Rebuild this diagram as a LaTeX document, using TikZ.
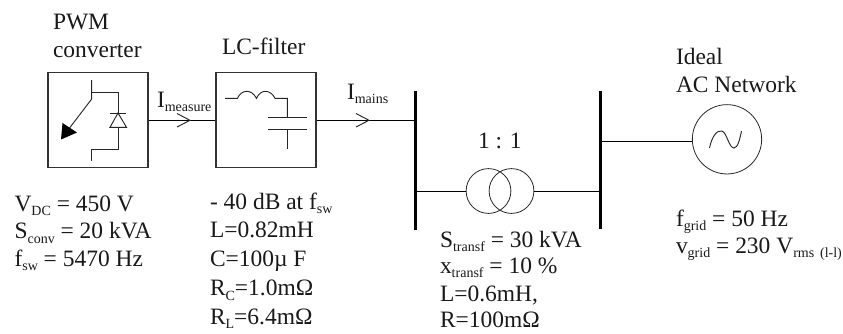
\documentclass[tikz,border=0pt]{standalone}
\usepackage{fontspec}
\setmainfont{Liberation Serif}
\newcommand{\sbs}[1]{\raisebox{-3.6pt}{\fontsize{10.5pt}{12pt}\selectfont #1}}
\tikzset{
  x=0.75pt,y=-0.75pt,
  wire/.style={draw=black,line width=0.75pt},
  thin wire/.style={draw=black!85,line width=0.7pt},
  bus/.style={draw=black,line width=2pt},
  box/.style={draw=black!80,line width=0.8pt,minimum width=75pt,minimum height=71.25pt,inner sep=0pt},
  coil/.style={draw=black!85,circle,line width=0.6pt,minimum size=33.6pt,inner sep=0pt},
  source/.style={draw=black!85,circle,line width=0.6pt,minimum size=52pt,inner sep=0pt},
  lbl/.style={anchor=base west,inner sep=0pt,outer sep=0pt,font=\fontsize{17.6pt}{20pt}\selectfont,text=black!90},
}
\begin{document}
\begin{tikzpicture}
\useasboundingbox (0,0) rectangle (843,333);
% boxes
\node[box] (pwm) at (98,120.3) {};
\node[box] (lc) at (266,120.3) {};
\coordinate (b1t) at (415.5,91);
\coordinate (b1b) at (415.5,230);
\coordinate (b2t) at (600.5,91);
\coordinate (b2b) at (600.5,229);
\coordinate (b1a) at (415.5,120.3);
\coordinate (b1c) at (415.5,191);
\coordinate (b2c) at (600.5,191);
\coordinate (b2s) at (600.5,141);
\draw[bus] (b1t) -- (b1b);
\draw[bus] (b2t) -- (b2b);
\node[coil] (t1) at (488.5,191) {};
\node[coil] (t2) at (511.5,191) {};
\node[source] (ac) at (727,139.3) {};
% connectors
\draw[wire] (pwm.east) -- (lc.west);
\draw[wire] (lc.east) -- (b1a);
\draw[wire] (b1c) -- (t1.west);
\draw[wire] (t2.east) -- (b2c);
\draw[wire] (b2s) -- (ac.west |- b2s);
% chevrons
\draw[thin wire] (177,113.5) -- (190,120.3) -- (177,127);
\draw[thin wire] (356,113.5) -- (369,120.3) -- (356,127);
% converter symbol
\draw[thin wire] (91.7,80) -- (91.7,99) -- (68,130);
\fill[black] (61,139.5) -- (62.5,123) -- (77,132.5) -- cycle;
\draw[thin wire] (91.7,92) -- (118,92) -- (118,149) -- (91.7,149) -- (91.7,161);
\draw[thin wire,fill=white] (118,113) -- (110,127.3) -- (126.5,127.3) -- cycle;
\draw[thin wire] (110,113) -- (125.5,113);
% LC
\draw[thin wire] (225,98.3) -- (237.5,98.3)
  .. controls (241,90) and (251,88) .. (256.5,98.3)
  .. controls (261,88) and (271,90) .. (275,98.3) -- (287.3,98.3) -- (287.3,117.5);
\draw[thin wire] (268,117.5) -- (307,117.5);
\draw[thin wire] (268,129) -- (307,129);
\draw[thin wire] (287.3,129) -- (287.3,149.3);
% sine
\draw[thin wire] (709.5,148) .. controls (712,136) and (717,130) .. (722,131)
  .. controls (727,133) and (729,148) .. (734,148) .. controls (738,148) and (740,138) .. (741.5,131);
% labels
\node[lbl] (l1) at (53,29) {PWM};
\node[lbl] (l2) at (53,57) {converter};
\node[lbl] (l3) at (222,54) {LC-filter};
\node[lbl] (l4) at (157,107) {I\sbs{measure}};
\node[lbl] (l5) at (347,99) {I\sbs{mains}};
\node[lbl] (l6) at (478,148) {1 : 1};
\node[lbl] (l7) at (676,64) {Ideal};
\node[lbl] (l8) at (676,92) {AC Network};
\node[lbl] (v1) at (14.5,211) {V\sbs{DC} = 450 V};
\node[lbl] (v2) at (14.5,238.5) {S\sbs{conv} = 20 kVA};
\node[lbl] (v3) at (14.5,266) {f\sbs{sw} = 5470 Hz};
\node[lbl] (f1) at (210,209) {- 40 dB at f\sbs{sw}};
\node[lbl] (f2) at (210,237) {L=0.82mH};
\node[lbl] (f3) at (210,266) {C=100µ F};
\node[lbl] (f4) at (210,295.5) {R\sbs{C}=1.0mΩ};
\node[lbl] (f5) at (210,324) {R\sbs{L}=6.4mΩ};
\node[lbl] (t3) at (440,247) {S\sbs{transf} = 30 kVA};
\node[lbl] (t4) at (440,273) {x\sbs{transf} = 10 \%};
\node[lbl] (t5) at (440,301) {L=0.6mH,};
\node[lbl] (t6) at (440,327) {R=100mΩ};
\node[lbl] (g1) at (676,226) {f\sbs{grid} = 50 Hz};
\node[lbl] (g2) at (676,253) {v\sbs{grid} = 230 V\sbs{rms\, (l-l)}};
\end{tikzpicture}
\end{document}
